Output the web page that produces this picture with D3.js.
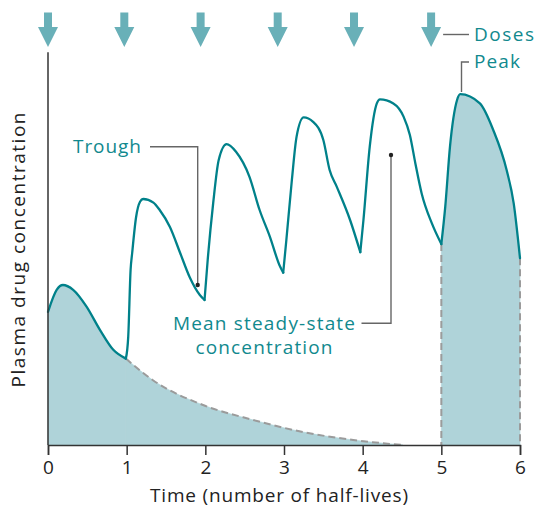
<!DOCTYPE html>
<html>
<head>
<meta charset="utf-8">
<script src="https://cdn.jsdelivr.net/npm/d3@7/dist/d3.min.js"></script>
<style>
  html, body { margin: 0; padding: 0; background: #fff; }
  svg { display: block; }
  text { font-family: "Open Sans", "Noto Sans", sans-serif; }
</style>
</head>
<body>
<svg id="chart" width="538" height="508"></svg>
<script>
// Time in half-lives, concentration in arbitrary units (0-100)
const xTicks = [0, 1, 2, 3, 4, 5, 6];
const doseTimes = [0, 0.97, 1.94, 2.92, 3.89, 4.87];

// Concentration after each dose, one segment per dosing interval
const dose1 = [[0.00,33.3],[0.11,38.8],[0.19,40.0],[0.32,38.8],[0.49,34.6],[0.66,28.8],[0.83,23.8],[0.99,21.6]];
const dose2 = [[0.99,21.6],[1.02,27.1],[1.05,43.8],[1.07,48.0],[1.12,57.0],[1.17,60.8],[1.21,61.5],[1.34,60.6],[1.42,58.75],[1.55,54.5],[1.68,48.0],[1.80,42.0],[1.93,37.5],[1.99,36.25]];
const dose3 = [[1.99,36.25],[2.03,46.25],[2.10,60.5],[2.17,71.25],[2.27,75.2],[2.39,73.3],[2.56,67.1],[2.69,58.75],[2.82,52.1],[2.95,44.6],[2.99,43.1]];
const dose4 = [[2.99,43.1],[3.03,51.25],[3.10,66.25],[3.16,77.1],[3.25,81.9],[3.37,80.8],[3.50,76.25],[3.58,68.75],[3.67,64.6],[3.84,56.25],[3.97,48.2]];
const dose5 = [[3.97,48.2],[4.01,56.25],[4.09,74.6],[4.18,85.4],[4.22,86.4],[4.39,85.4],[4.52,82.1],[4.60,77.5],[4.67,70.4],[4.75,62.9],[4.88,55.4],[5.00,50.25]];
const dose6 = [[5.00,50.25],[5.05,59.6],[5.11,74.6],[5.20,86.25],[5.24,87.7],[5.49,85.4],[5.66,78.75],[5.83,68.75],[5.92,60.4],[6.00,46.7]];

// Elimination of a single dose with no further dosing
const singleDoseDecay = [[0.99,21.6],[1.33,16.25],[1.97,10.0],[2.61,6.25],[3.24,3.25],[3.88,1.25],[4.51,0]];

const teal = "#00818a";
const labelTeal = "#11898e";
const fillBlue = "#afd3d9";
const arrowBlue = "#69b0b8";
const dashGrey = "#9b9b9b";

const svg = d3.select("#chart");
const x = d3.scaleLinear().domain([0, 6]).range([48, 520]);
const y = d3.scaleLinear().domain([0, 100]).range([445, 45]);

const area = d3.area().x(d => x(d[0])).y0(y(0)).y1(d => y(d[1])).curve(d3.curveMonotoneX);
const line = d3.line().x(d => x(d[0])).y(d => y(d[1])).curve(d3.curveMonotoneX);

// Shaded areas: first dose alone, and the last dosing interval
[dose1, singleDoseDecay, dose6].forEach(seg => {
  svg.append("path").attr("d", area(seg))
    .attr("fill", fillBlue).attr("stroke", fillBlue).attr("stroke-width", 0.6);
});

// Dashed outlines
const dashed = g => g.attr("fill", "none").attr("stroke", dashGrey)
  .attr("stroke-width", 2).attr("stroke-dasharray", "7,4");
svg.append("path").attr("d", line(singleDoseDecay)).call(dashed);
[dose6[0], dose6[dose6.length - 1]].forEach(p => {
  svg.append("line").attr("x1", x(p[0])).attr("x2", x(p[0]))
    .attr("y1", y(p[1])).attr("y2", y(0)).call(dashed);
});

// Repeated-dosing concentration curve
[dose1, dose2, dose3, dose4, dose5, dose6].forEach(seg => {
  svg.append("path").attr("d", line(seg))
    .attr("fill", "none").attr("stroke", teal).attr("stroke-width", 2.3)
    .attr("stroke-linejoin", "round").attr("stroke-linecap", "round");
});

// Axes
const xAxis = d3.axisBottom(x).tickValues(xTicks).tickSize(10).tickPadding(6).tickFormat(d3.format("d"));
const gx = svg.append("g").attr("transform", `translate(0,${y(0)})`).call(xAxis);
gx.select(".domain").attr("stroke", "#333").attr("stroke-width", 1.5);
gx.selectAll(".tick line").attr("stroke", "#333").attr("stroke-width", 1.5);
gx.selectAll(".tick text").attr("font-size", 19).attr("fill", "#222")
  .style("font-family", '"Open Sans", "Noto Sans", sans-serif');

svg.append("line").attr("x1", x(0)).attr("x2", x(0))
  .attr("y1", y(0)).attr("y2", y(98.2))
  .attr("stroke", "#333").attr("stroke-width", 1.5);

// Text helper: fixed font size, spacing stretched to the given width
function label(xPos, yPos, str, width, color, anchor) {
  return svg.append("text").attr("x", xPos).attr("y", yPos)
    .attr("text-anchor", anchor || "start").attr("font-size", 19)
    .attr("fill", color).attr("textLength", width).attr("lengthAdjust", "spacing")
    .text(str);
}

label(279, 502, "Time (number of half-lives)", 258, "#222", "middle");
label(0, 0, "Plasma drug concentration", 275, "#222", "middle")
  .attr("transform", "translate(25,250) rotate(-90)");

// Dose arrows
doseTimes.forEach(t => {
  const cx = x(t);
  svg.append("path")
    .attr("d", `M${cx - 4},12.5 H${cx + 4} V27 H${cx + 10} L${cx},47 L${cx - 10},27 H${cx - 4} Z`)
    .attr("fill", arrowBlue);
});

// Annotations
const leader = g => g.attr("fill", "none").attr("stroke", "#666").attr("stroke-width", 1.4);
const lastDose = x(doseTimes[doseTimes.length - 1]);
svg.append("path").attr("d", `M${lastDose + 12},34.5 H469`).call(leader);
label(474, 40.5, "Doses", 60, labelTeal);

svg.append("path").attr("d", `M461.5,92 V62 H469`).call(leader);
label(474, 68, "Peak", 46, labelTeal);

svg.append("path").attr("d", `M150,146.7 H197.7 V285`).call(leader);
svg.append("circle").attr("cx", 197.7).attr("cy", 285).attr("r", 2.2).attr("fill", "#222");
label(73, 153, "Trough", 68, labelTeal);

svg.append("path").attr("d", `M361.5,323.3 H391 V155`).call(leader);
svg.append("circle").attr("cx", 391).attr("cy", 155).attr("r", 2.2).attr("fill", "#222");
label(264, 330, "Mean steady-state", 182, labelTeal, "middle");
label(264, 354, "concentration", 137, labelTeal, "middle");
</script>
</body>
</html>
